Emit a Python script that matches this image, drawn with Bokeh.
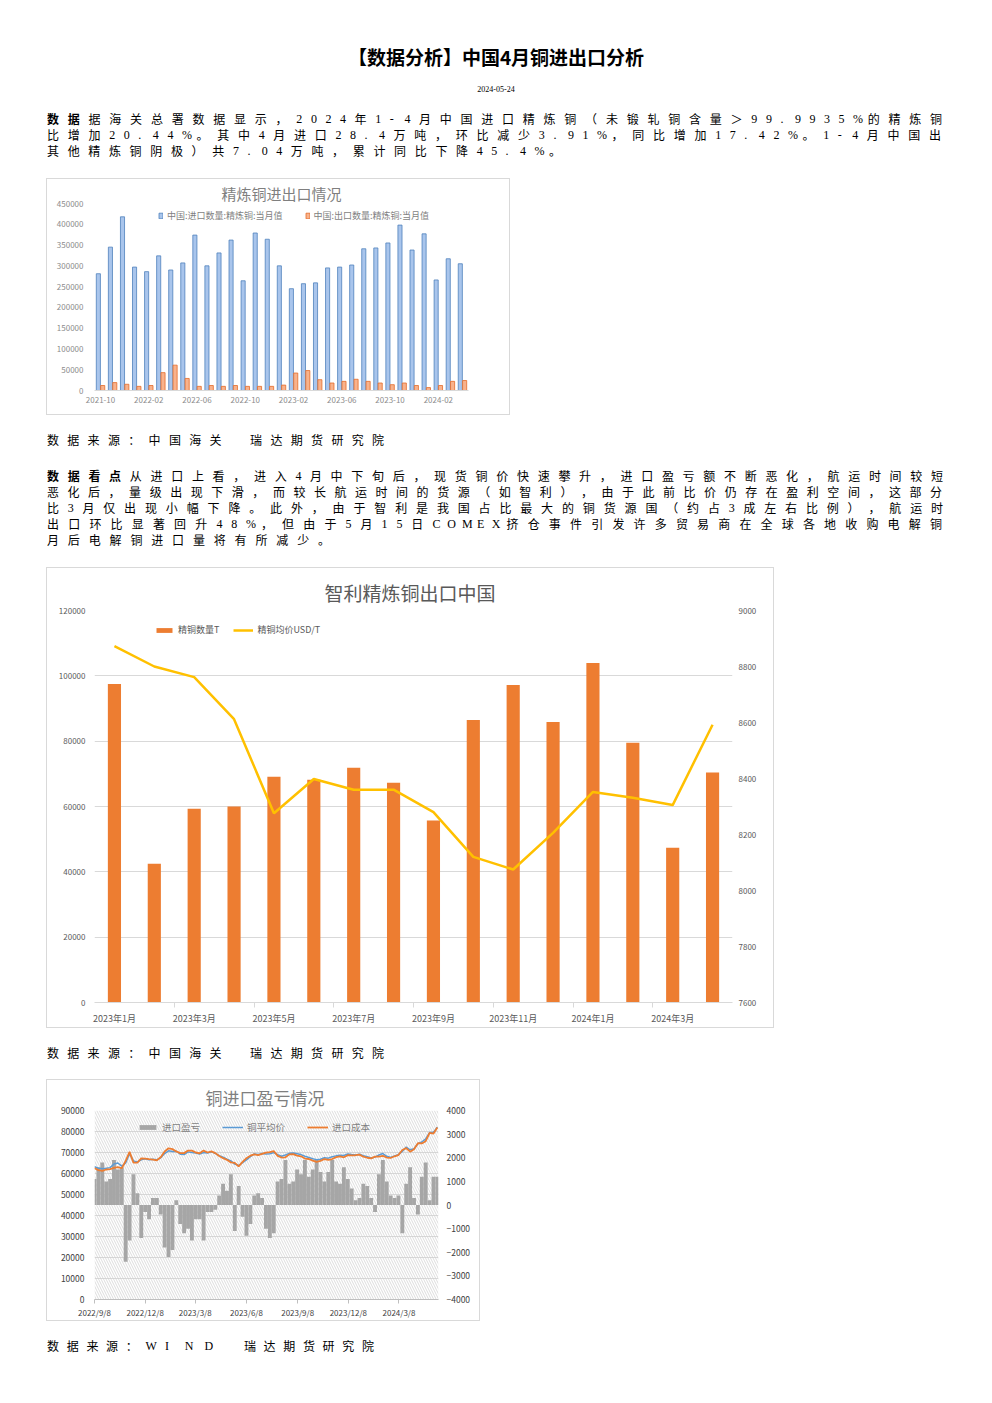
import html
import pandas as pd
from bokeh.plotting import figure
from bokeh.models import (Div, Range1d, LinearAxis, FixedTicker, SingleIntervalTicker,
                          NumeralTickFormatter, Legend, LegendItem, BoxAnnotation,
                          ColumnDataSource)
from bokeh.layouts import column
from bokeh.transform import dodge
from bokeh.embed import file_html
from bokeh.resources import INLINE

CJK = "Noto Sans CJK SC"
SERIF = "Liberation Serif"

# ---------------- texts ----------------
TITLE = "【数据分析】中国4月铜进出口分析"
PUB_DATE = "2024-05-24"
PARA1 = [
    "数据据海关总署数据显示，2024年1-4月中国进口精炼铜（未锻轧铜含量＞99.9935%的精炼铜",
    "比增加20.44%。其中4月进口28.4万吨，环比减少3.91%，同比增加17.42%。1-4月中国出",
    "其他精炼铜阴极）共7.04万吨，累计同比下降45.4%。",
]
PARA2 = [
    "数据看点从进口上看，进入4月中下旬后，现货铜价快速攀升，进口盈亏额不断恶化，航运时间较短",
    "恶化后，量级出现下滑，而较长航运时间的货源（如智利），由于此前比价仍存在盈利空间，这部分",
    "比3月仅出现小幅下降。此外，由于智利是我国占比最大的铜货源国（约占3成左右比例），航运时",
    "出口环比显著回升48%，但由于5月15日COMEX挤仓事件引发许多贸易商在全球各地收购电解铜",
    "月后电解铜进口量将有所减少。",
]
SOURCE_CUSTOMS = "数据来源：中国海关　瑞达期货研究院"
SOURCE_WIND = "数据来源：WIND　瑞达期货研究院"

# ---------------- chart 1 data ----------------
CH1_TITLE = "精炼铜进出口情况"
CH1_SERIES = ["中国:进口数量:精炼铜:当月值", "中国:出口数量:精炼铜:当月值"]
MONTHS_1 = ["2021-10", "2021-11", "2021-12", "2022-01", "2022-02", "2022-03", "2022-04",
            "2022-05", "2022-06", "2022-07", "2022-08", "2022-09", "2022-10", "2022-11",
            "2022-12", "2023-01", "2023-02", "2023-03", "2023-04", "2023-05", "2023-06",
            "2023-07", "2023-08", "2023-09", "2023-10", "2023-11", "2023-12", "2024-01",
            "2024-02", "2024-03", "2024-04"]
IMPORTS = [281000, 345000, 418000, 297000, 286000, 324000, 290000, 307000, 374000, 300000,
           331000, 362000, 264000, 379000, 364000, 300000, 245000, 257000, 259000, 295000,
           297000, 302000, 341000, 343000, 355000, 398000, 338000, 377000, 266000, 317000,
           305000]
EXPORTS = [12000, 19000, 15000, 10000, 12000, 43000, 61000, 29000, 10000, 12000,
           10000, 12000, 10000, 10000, 10000, 13000, 42000, 48000, 26000, 18000,
           22000, 27000, 22000, 18000, 14000, 18000, 12000, 7000, 12000, 22000,
           24000]

# ---------------- chart 2 data ----------------
CH2_TITLE = "智利精炼铜出口中国"
CH2_SERIES = ["精铜数量T", "精铜均价USD/T"]
MONTHS_2 = ["2023年1月", "2023年2月", "2023年3月", "2023年4月", "2023年5月", "2023年6月",
            "2023年7月", "2023年8月", "2023年9月", "2023年10月", "2023年11月", "2023年12月",
            "2024年1月", "2024年2月", "2024年3月", "2024年4月"]
CHILE_QTY = [97500, 42500, 59300, 60000, 69100, 68200, 71900, 67300, 55700, 86500,
             97200, 85900, 103900, 79500, 47400, 70400]
CHILE_PRICE = [8873, 8800, 8762, 8612, 8276, 8398, 8360, 8360, 8280, 8120,
               8075, 8206, 8352, 8331, 8305, 8592]

# ---------------- chart 3 data (weekly readings) ----------------
CH3_TITLE = "铜进口盈亏情况"
CH3_SERIES = ["进口盈亏", "铜平均价", "进口成本"]
CH3_START = "2022-09-08"
CH3_END = "2024-05-16"
CH3_AXIS_END = "2024-05-18"
SPOT_PRICE = [63200, 62500, 62300, 62500, 62800, 64500, 65000, 63500, 65000, 69500,
              66000, 65500, 66500, 67000, 66500, 66800, 66500, 67500, 69500, 70800,
              70500, 70600, 69200, 69000, 70300, 70000, 69700, 69300, 70000, 69800,
              70300, 69600, 68500, 67800, 66800, 66000, 64500, 63800, 65200, 66500,
              68000, 69300, 69000, 69500, 69300, 69400, 70000, 69000, 68200, 68800,
              69600, 69800, 69400, 69000, 68200, 67600, 67000, 66600, 66800, 67500,
              67300, 68000, 68400, 68700, 68600, 69300, 69000, 68800, 69200, 68500,
              68000, 67400, 67800, 68800, 69500, 68200, 67600, 68400, 69000, 70500,
              72600, 71300, 71800, 74200, 75000, 76500, 79500, 79700, 82100]
IMPORT_COST = [62500, 61600, 61300, 61900, 62100, 62700, 63000, 62500, 66000, 70300,
               65200, 65200, 67200, 67100, 66800, 66600, 66300, 67700, 70500, 72000,
               71600, 70500, 69700, 69700, 70900, 70900, 70000, 69600, 70900, 70000,
               70500, 69700, 68300, 67300, 66500, 65300, 65100, 63400, 65500, 67300,
               68500, 69100, 68700, 69300, 69900, 70200, 70700, 68400, 67600, 67700,
               69100, 69200, 68500, 68200, 67100, 66900, 66100, 65500, 66000, 66900,
               66500, 66900, 67800, 68200, 67700, 68700, 68600, 68700, 69000, 68000,
               67500, 67200, 68000, 68000, 68400, 67600, 67400, 68200, 68800, 71200,
               72100, 70400, 71600, 74400, 74300, 75400, 79400, 79000, 81900]
IMPORT_PL = [1100, 1600, 1800, 1000, 1100, 1900, 1500, 1600, -2400, -1500,
             1300, 500, -1400, -300, -600, 300, 300, -400, -1800, -2200,
             -1900, 200, -800, -1200, -1000, -1500, -600, -600, -1500, -300,
             -300, -200, 400, 900, 600, 1300, -1100, 800, -500, -1300,
             -800, 400, 500, 300, -1000, -1400, -1200, 1000, 1100, 1900,
             900, 1000, 1500, 1300, 1900, 1200, 1500, 1900, 1400, 1000,
             1400, 1900, 1000, 900, 1600, 1100, 700, 200, 300, 900,
             800, 300, -300, 1300, 1900, 1000, 400, 300, 400, -1200,
             900, 1600, 300, -400, 1200, 1800, 200, 1200, 1200]
CH3_TICK_DATES = ["2022-09-08", "2022-12-08", "2023-03-08", "2023-06-08",
                  "2023-09-08", "2023-12-08", "2024-03-08"]
CH3_TICK_LABELS = ["2022/9/8", "2022/12/8", "2023/3/8", "2023/6/8",
                   "2023/9/8", "2023/12/8", "2024/3/8"]


# ================= page text helpers =================
def is_wide(ch):
    return ord(ch) > 0x2000


def line_html(s, yc, div_top, last_x, bold=0, fs=12, ratio=0.7, x0=47, clip_r=946):
    adv = [1.0 if is_wide(ch) else ratio for ch in s]
    c = (last_x - x0) / sum(adv[:-1])
    spans = []
    x = 0.0
    for k, ch in enumerate(s):
        fam = CJK if is_wide(ch) else SERIF
        wt = "bold" if k < bold else "normal"
        spans.append(f'<span style="position:absolute;left:{x:.1f}px;top:0;'
                     f'font-family:\'{fam}\';font-weight:{wt}">{html.escape(ch)}</span>')
        x += c * adv[k]
    lh = 18
    return (f'<div style="position:absolute;left:{x0 - 8}px;top:{yc - div_top - lh / 2:.1f}px;'
            f'width:{clip_r - x0}px;height:{lh}px;line-height:{lh}px;font-size:{fs}px;'
            f'overflow:hidden;white-space:nowrap;color:#000">{"".join(spans)}</div>')


def center_html(s, yc, div_top, fs, weight, family, color):
    lh = int(fs * 1.4)
    return (f'<div style="position:absolute;left:0;width:976px;top:{yc - div_top - lh / 2:.1f}px;'
            f'height:{lh}px;line-height:{lh}px;text-align:center;font-size:{fs}px;'
            f'font-weight:{weight};font-family:\'{family}\';color:{color};white-space:nowrap">'
            f'{html.escape(s)}</div>')


def make_div(parts, height):
    inner = "".join(parts)
    return Div(text=f'<div style="position:relative;width:976px;height:{height}px;overflow:hidden">'
                    f'{inner}</div>', width=976, height=height, margin=0)


# page layout (page pixel coordinates)
TOP_A, H_A = 8, 171
TOP_B, H_B = 414, 154
TOP_C, H_C = 1027, 53
TOP_D, H_D = 1320, 75
P1_Y, P1_END = [119, 135, 151], [930, 929, 549]
P2_Y, P2_END = [476, 492, 508, 524, 540], [931, 930, 931, 930, 318]

parts_a = [center_html(TITLE, 57, TOP_A, 19, "bold", CJK, "#000"),
           center_html(PUB_DATE, 89, TOP_A, 8, "normal", SERIF, "#000")]
for k, (s, y, e) in enumerate(zip(PARA1, P1_Y, P1_END)):
    parts_a.append(line_html(s, y, TOP_A, e, bold=2 if k == 0 else 0))
div_a = make_div(parts_a, H_A)

parts_b = [line_html(SOURCE_CUSTOMS, 440, TOP_B, 372, ratio=1.0)]
for k, (s, y, e) in enumerate(zip(PARA2, P2_Y, P2_END)):
    parts_b.append(line_html(s, y, TOP_B, e, bold=4 if k == 0 else 0))
div_b = make_div(parts_b, H_B)

div_c = make_div([line_html(SOURCE_CUSTOMS, 1053, TOP_C, 372, ratio=1.0)], H_C)
div_d = make_div([line_html(SOURCE_WIND, 1346, TOP_D, 362, ratio=1.0)], H_D)


# ================= figure helpers =================
def base_fig(w, h, xr, yr, ml, mr, mt, mb):
    p = figure(width=w, height=h, x_range=xr, y_range=yr, output_backend="svg",
               toolbar_location=None, min_border_left=ml, min_border_right=mr,
               min_border_top=mt, min_border_bottom=mb, background_fill_color="white",
               border_fill_color="white", outline_line_color=None, margin=(0, 0, 0, 39),
               styles={"box-shadow": "0 0 0 1px #d9d9d9"})
    p.xgrid.visible = False
    p.ygrid.visible = False
    return p


def style_axis(ax, size, color, standoff):
    ax.major_label_text_font = CJK
    ax.major_label_text_font_size = size
    ax.major_label_text_color = color
    ax.major_label_standoff = standoff
    ax.axis_line_color = None
    ax.major_tick_line_color = None
    ax.minor_tick_line_color = None
    ax.major_tick_out = 0
    ax.major_tick_in = 0
    ax.minor_tick_out = 0
    ax.minor_tick_in = 0


def set_title(p, text, left, size, color, standoff):
    t = p.title
    t.text = text
    t.align = "left"
    t.offset = left
    t.vertical_align = "bottom"
    t.standoff = standoff
    t.text_font = CJK
    t.text_font_size = size
    t.text_font_style = "normal"
    t.text_color = color


def add_legend(p, items, sx, sy, gw, gh, spacing, size, color):
    lg = Legend(items=items, location=(sx, sy), orientation="horizontal",
                background_fill_alpha=0, border_line_color=None, padding=0, margin=0,
                spacing=spacing, label_standoff=4, glyph_width=gw, glyph_height=gh,
                label_height=12, label_text_font=CJK, label_text_font_size=size,
                label_text_color=color)
    p.add_layout(lg)


# ================= chart 1 =================
idx1 = list(range(len(MONTHS_1)))
src1 = ColumnDataSource(dict(i=idx1, imp=IMPORTS, exp=EXPORTS))
p1 = base_fig(462, 235, Range1d(-0.5, len(idx1) - 0.5), Range1d(0, 450000), 47, 5, 24, 24)
r_imp = p1.vbar(x=dodge("i", -0.18), top="imp", width=0.34, source=src1,
                fill_color="#a9c5ec", line_color="#4f81bd", line_width=0.8)
r_exp = p1.vbar(x=dodge("i", 0.18), top="exp", width=0.34, source=src1,
                fill_color="#f8b28c", line_color="#e46c2a", line_width=0.8)
style_axis(p1.yaxis[0], "8px", "#8c8c8c", 11)
p1.yaxis.ticker = SingleIntervalTicker(interval=50000)
p1.yaxis.formatter = NumeralTickFormatter(format="0")
style_axis(p1.xaxis[0], "8px", "#8c8c8c", 6)
p1.xaxis.axis_line_color = "#d9d9d9"
p1.xaxis.ticker = FixedTicker(ticks=idx1[::4])
p1.xaxis.major_label_overrides = {i: MONTHS_1[i] for i in idx1[::4]}
set_title(p1, CH1_TITLE, 127, "15px", "#7f7f7f", 0)
add_legend(p1, [LegendItem(label=CH1_SERIES[0], renderers=[r_imp]),
                LegendItem(label=CH1_SERIES[1], renderers=[r_exp])],
           64, 168, 5, 7, 22, "9px", "#7f7f7f")

# ================= chart 2 =================
idx2 = list(range(len(MONTHS_2)))
src2 = ColumnDataSource(dict(i=idx2, qty=CHILE_QTY, price=CHILE_PRICE))
p2 = base_fig(726, 459, Range1d(-0.5, len(idx2) - 0.5), Range1d(0, 120000), 47, 41, 42, 22)
p2.extra_y_ranges = {"price": Range1d(7600, 9000)}
p2.ygrid.visible = True
p2.ygrid.grid_line_color = "#d9d9d9"
r_qty = p2.vbar(x="i", top="qty", width=0.33, source=src2, fill_color="#ed7d31", line_color=None)
r_price = p2.line(x="i", y="price", source=src2, y_range_name="price",
                  line_color="#ffc000", line_width=2.5)
style_axis(p2.yaxis[0], "8px", "#595959", 9)
p2.yaxis.ticker = SingleIntervalTicker(interval=20000)
p2.yaxis.formatter = NumeralTickFormatter(format="0")
ax2r = LinearAxis(y_range_name="price", ticker=SingleIntervalTicker(interval=200))
style_axis(ax2r, "8px", "#595959", 6)
p2.add_layout(ax2r, "right")
style_axis(p2.xaxis[0], "9px", "#595959", 4)
p2.xaxis.axis_line_color = "#d9d9d9"
p2.xaxis.ticker = FixedTicker(ticks=idx2[::2], minor_ticks=[i + 0.5 for i in idx2[1:-1:2]])
p2.xaxis.minor_tick_line_color = "#d9d9d9"
p2.xaxis.minor_tick_out = 5
p2.xaxis.major_label_overrides = {i: MONTHS_2[i] for i in idx2[::2]}
set_title(p2, CH2_TITLE, 230, "19px", "#595959", 10)
add_legend(p2, [LegendItem(label=CH2_SERIES[0], renderers=[r_qty]),
                LegendItem(label=CH2_SERIES[1], renderers=[r_price])],
           60, 366, 20, 6, 14, "9px", "#595959")

# ================= chart 3 =================
start = pd.Timestamp(CH3_START)
dates3 = pd.date_range(CH3_START, CH3_END, freq="7D")
days3 = [(d - start).days for d in dates3]
src3 = ColumnDataSource(dict(d=days3, price=SPOT_PRICE, cost=IMPORT_COST, pl=IMPORT_PL))
tick_days = [(pd.Timestamp(t) - start).days for t in CH3_TICK_DATES]
p3 = base_fig(432, 240, Range1d(0, (pd.Timestamp(CH3_AXIS_END) - start).days),
              Range1d(0, 90000), 44, 38, 30, 20)
p3.extra_y_ranges = {"pl": Range1d(-4000, 4000)}
p3.add_layout(BoxAnnotation(fill_alpha=0, line_color=None, hatch_pattern="\\",
                            hatch_color="#cfcfcf", hatch_scale=5, hatch_weight=0.7,
                            level="underlay"))
p3.ygrid.visible = True
p3.ygrid.grid_line_color = "#d9d9d9"
r_pl = p3.vbar(x="d", top="pl", bottom=0, width=7, source=src3, y_range_name="pl",
               fill_color="#a6a6a6", line_color=None)
r_spot = p3.line(x="d", y="price", source=src3, line_color="#5b9bd5", line_width=1.5)
r_cost = p3.line(x="d", y="cost", source=src3, line_color="#ed7d31", line_width=1.8)
style_axis(p3.yaxis[0], "8.5px", "#404040", 10)
p3.yaxis.ticker = SingleIntervalTicker(interval=10000)
p3.yaxis.formatter = NumeralTickFormatter(format="0")
ax3r = LinearAxis(y_range_name="pl", ticker=SingleIntervalTicker(interval=1000))
style_axis(ax3r, "8.5px", "#404040", 8)
p3.add_layout(ax3r, "right")
style_axis(p3.xaxis[0], "8px", "#404040", 3)
p3.xaxis.axis_line_color = "#bfbfbf"
p3.xaxis.major_tick_line_color = "#bfbfbf"
p3.xaxis.major_tick_out = 4
p3.xaxis.ticker = FixedTicker(ticks=tick_days)
p3.xaxis.major_label_overrides = dict(zip(tick_days, CH3_TICK_LABELS))
set_title(p3, CH3_TITLE, 111, "17px", "#7f7f7f", 2)
add_legend(p3, [LegendItem(label=CH3_SERIES[0], renderers=[r_pl]),
                LegendItem(label=CH3_SERIES[1], renderers=[r_spot]),
                LegendItem(label=CH3_SERIES[2], renderers=[r_cost])],
           43, 165, 21, 6, 22, "9.5px", "#7f7f7f")

page = column(div_a, p1, div_b, p2, div_c, p3, div_d, spacing=0, margin=(8, 0, 0, 8))
open("out.html", "w").write(file_html(page, INLINE, title="中国4月铜进出口分析"))
